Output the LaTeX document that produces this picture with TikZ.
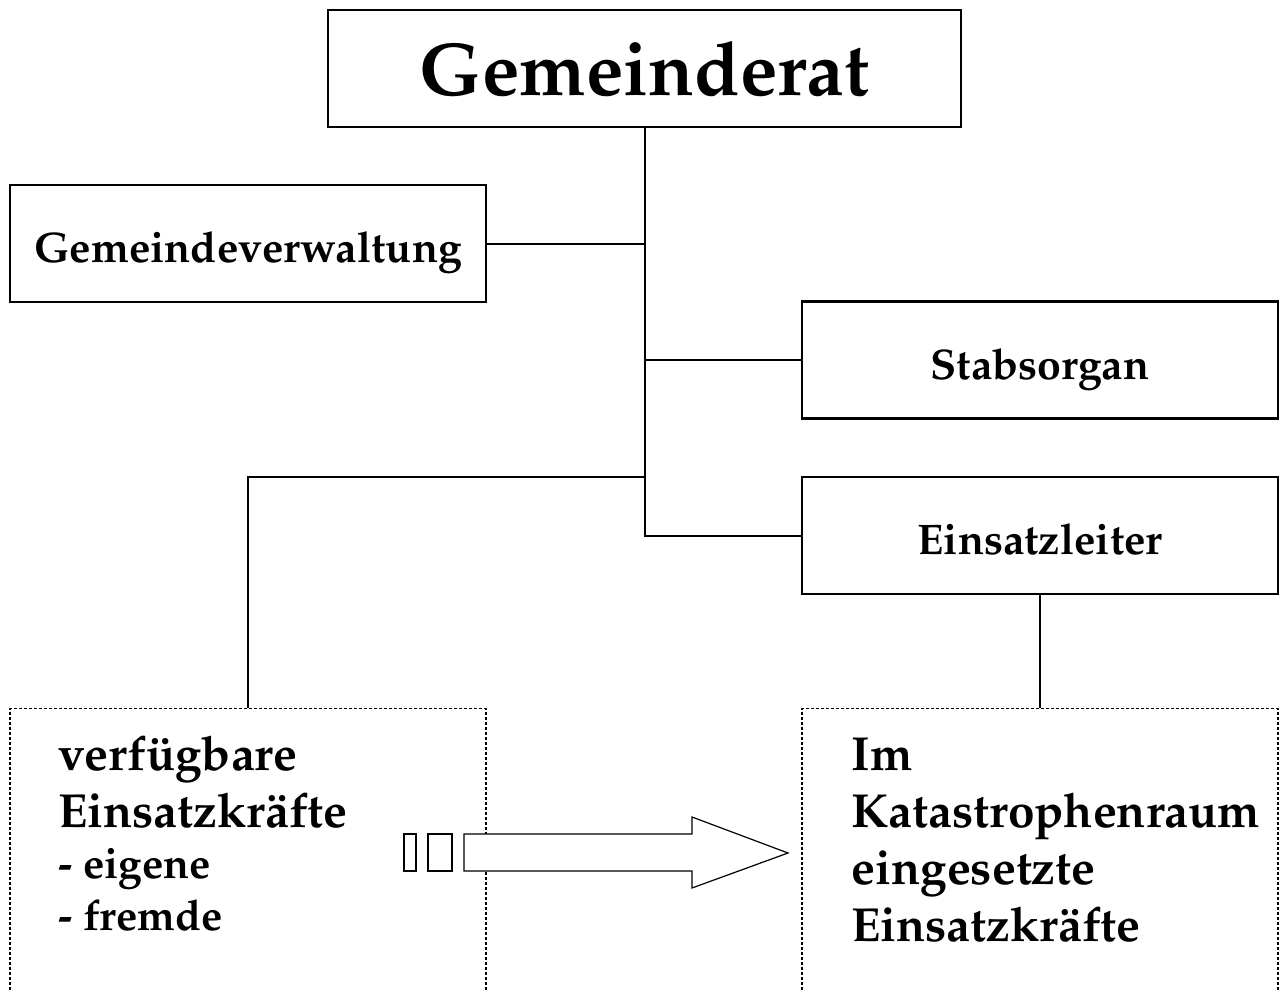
\documentclass[tikz,border=0pt]{standalone}
\usepackage[T1]{fontenc}
\renewcommand{\rmdefault}{ppl}

\begin{document}
\begin{tikzpicture}[
    x=0.5pt,y=-0.5pt,
    box/.style={draw, line width=1.3pt, minimum width=238pt, minimum height=58.5pt, inner sep=0pt, text height=19pt, text depth=0pt, font=\bfseries\fontsize{21.4}{24}\selectfont},
    line/.style={line width=1pt},
    dotbox/.style={draw, dash pattern=on 1.5pt off 1pt, line width=0.6pt, minimum width=238pt, minimum height=200pt, inner sep=0pt},
    txt/.style={anchor=base west, align=left, inner sep=0pt, font=\bfseries\fontsize{23.9}{28.5}\selectfont},
    thin/.style={line width=0.6pt}
    ]
    \useasboundingbox (0,0) rectangle (1280,991);
    \clip (0,0) rectangle (1280,991);
    \node[box, minimum width=316.5pt, text height=26.5pt, font=\bfseries\fontsize{37.5}{40}\selectfont] (rat) at (644.5,68.5) {Gemeinderat};
    \node[box] (verwaltung) at (248,243.5) {Gemeindeverwaltung};
    \node[box] (stab) at (1040,360) {Stabsorgan};
    \node[box] (leiter) at (1040,535.5) {Einsatzleiter};
    \node[dotbox, anchor=north] (verfuegbar) at (248,708) {};
    \node[dotbox, anchor=north] (eingesetzt) at (1040,708) {};
    \coordinate (knick) at (643,477);
    \draw[line] (rat.south) -- (rat.south |- leiter.west) -- (leiter.west);
    \draw[line] (verwaltung.east) -- (rat.south |- verwaltung.east);
    \draw[line] (rat.south |- stab.west) -- (stab.west);
    \draw[line] (rat.south |- knick) -- (verfuegbar.north |- knick) -- (verfuegbar.north);
    \draw[line] (leiter.south) -- (eingesetzt.north);
    \node[txt] (verftext) at (58,827) {verfügbare\\Einsatzkräfte};
    \node[txt, font=\bfseries\fontsize{21.3}{26}\selectfont] (eigentext) at (58,930) {- eigene\\- fremde};
    \node[txt] (einstext) at (851,941) {Im\\Katastrophenraum\\eingesetzte\\Einsatzkräfte};
    \draw[thin] (404,834) rectangle (416,871);
    \draw[thin] (428,834) rectangle (452,871);
    \draw[thin, fill=white] (464,834) -- (692,834) -- (692,817) -- (788,853) -- (692,888) -- (692,871) -- (464,871) -- cycle;
  \end{tikzpicture}
\end{document}
